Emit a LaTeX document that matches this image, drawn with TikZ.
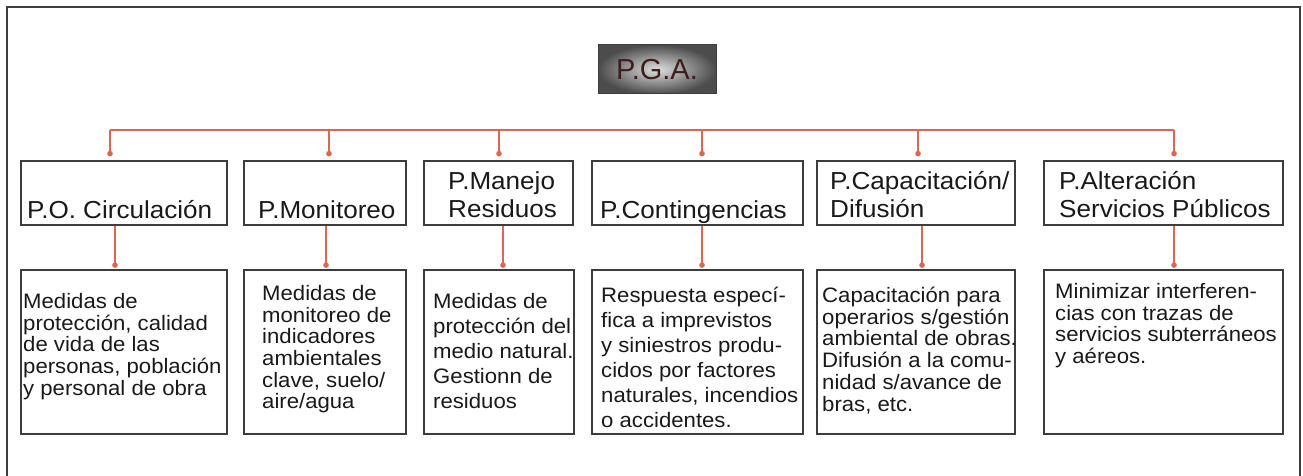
\documentclass[tikz,border=0pt]{standalone}
\usepackage{fontspec}
\setmainfont[FakeStretch=1.06]{Liberation Sans}
\newfontfamily\pgafont{Liberation Sans}
\usetikzlibrary{arrows.meta}
\definecolor{rama}{RGB}{214,104,84}
\definecolor{borde}{RGB}{60,60,60}
\definecolor{letra}{RGB}{25,25,25}
\definecolor{pgaletra}{RGB}{62,30,30}
\tikzset{
  pga/.style={draw=borde, line width=1pt, inner sep=0pt, minimum width=118pt, minimum height=49pt,
    inner color=gray!25, outer color=gray!60!black, text=pgaletra, font=\pgafont\fontsize{29}{34}\selectfont},
  prog/.style={draw=borde, line width=1.3pt, minimum height=64pt, inner sep=0pt},
  medida/.style={draw=borde, line width=1.3pt, minimum height=164pt, inner sep=0pt},
  titulo/.style={anchor=south west, inner sep=0pt, align=left, text depth=0pt, text=letra,
    font=\fontsize{24.6}{28}\selectfont},
  texto/.style={anchor=north west, inner sep=0pt, align=left, text=letra,
    font=\fontsize{20.9}{21.7}\selectfont},
  textoancho/.style={texto, font=\fontsize{20.9}{25}\selectfont},
  bus/.style={draw=rama, line width=1.2pt},
  rama/.style={draw=rama, line width=1.2pt, -{Circle[length=5.5pt]}, shorten >=4pt},
  ramab/.style={rama, shorten >=1.5pt}
}
\begin{document}
\begin{tikzpicture}[x=1pt,y=-1pt]
  \useasboundingbox (0,0) rectangle (1303,476);
  % marco abierto abajo
  \draw[borde, line width=2pt] (6.5,490) -- (6.5,7.5) -- (1300,7.5) -- (1300,490);

  \node[pga] (pga) at (657,69.5) {P.G.A.};

  % programas
  \node[prog, minimum width=206pt] (p1) at (124,193) {};
  \node[prog, minimum width=162pt] (p2) at (325,193) {};
  \node[prog, minimum width=149pt] (p3) at (498.5,193) {};
  \node[prog, minimum width=211pt] (p4) at (697.5,193) {};
  \node[prog, minimum width=198pt] (p5) at (916,193) {};
  \node[prog, minimum width=239pt] (p6) at (1163.5,193) {};
  \node[titulo] (t1) at (27,219) {P.O. Circulación};
  \node[titulo] (t2) at (258,219) {P.Monitoreo};
  \node[titulo] (t3) at (448,218) {P.Manejo\\Residuos};
  \node[titulo] (t4) at (600,219) {P.Contingencias};
  \node[titulo] (t5) at (830,218) {P.Capacitación/\\Difusión};
  \node[titulo] (t6) at (1059,218) {P.Alteración\\Servicios Públicos};

  % medidas
  \node[medida, minimum width=206pt] (m1) at (124,352) {};
  \node[medida, minimum width=162pt] (m2) at (325,352) {};
  \node[medida, minimum width=150pt] (m3) at (499,352) {};
  \node[medida, minimum width=211pt] (m4) at (697.5,352) {};
  \node[medida, minimum width=198pt] (m5) at (916,352) {};
  \node[medida, minimum width=239pt] (m6) at (1163.5,352) {};
  \node[texto] (x1) at (23,293) {Medidas de\\protección, calidad\\de vida de las\\personas, población\\y personal de obra};
  \node[texto] (x2) at (262,285) {Medidas de\\monitoreo de\\indicadores\\ambientales\\clave, suelo/\\aire/agua};
  \node[textoancho] (x3) at (433,293) {Medidas de\\protección del\\medio natural.\\Gestionn de\\residuos};
  \node[textoancho] (x4) at (601,287) {Respuesta especí-\\fica a imprevistos\\y siniestros produ-\\cidos por factores\\naturales, incendios\\o accidentes.};
  \node[texto] (x5) at (822,287) {Capacitación para\\operarios s/gestión\\ambiental de obras.\\Difusión a la comu-\\nidad s/avance de\\bras, etc.};
  \node[texto] (x6) at (1055,283) {Minimizar interferen-\\cias con trazas de\\servicios subterráneos\\y aéreos.};

  % ramas
  \coordinate (b1) at (110,130);
  \coordinate (b2) at (329,130);
  \coordinate (b3) at (499,130);
  \coordinate (b4) at (702,130);
  \coordinate (b5) at (918,130);
  \coordinate (b6) at (1174,130);
  \draw[bus] (b1) -- (b6);
  \draw[rama] (b1) -- (b1 |- p1.north);
  \draw[rama] (b2) -- (b2 |- p2.north);
  \draw[rama] (b3) -- (b3 |- p3.north);
  \draw[rama] (b4) -- (b4 |- p4.north);
  \draw[rama] (b5) -- (b5 |- p5.north);
  \draw[rama] (b6) -- (b6 |- p6.north);
  \coordinate (c1) at (115,0);
  \coordinate (c2) at (326,0);
  \coordinate (c3) at (503,0);
  \coordinate (c4) at (702,0);
  \coordinate (c5) at (922,0);
  \coordinate (c6) at (1174,0);
  \draw[ramab] (c1 |- p1.south) -- (c1 |- m1.north);
  \draw[ramab] (c2 |- p2.south) -- (c2 |- m2.north);
  \draw[ramab] (c3 |- p3.south) -- (c3 |- m3.north);
  \draw[ramab] (c4 |- p4.south) -- (c4 |- m4.north);
  \draw[ramab] (c5 |- p5.south) -- (c5 |- m5.north);
  \draw[ramab] (c6 |- p6.south) -- (c6 |- m6.north);
\end{tikzpicture}
\end{document}
